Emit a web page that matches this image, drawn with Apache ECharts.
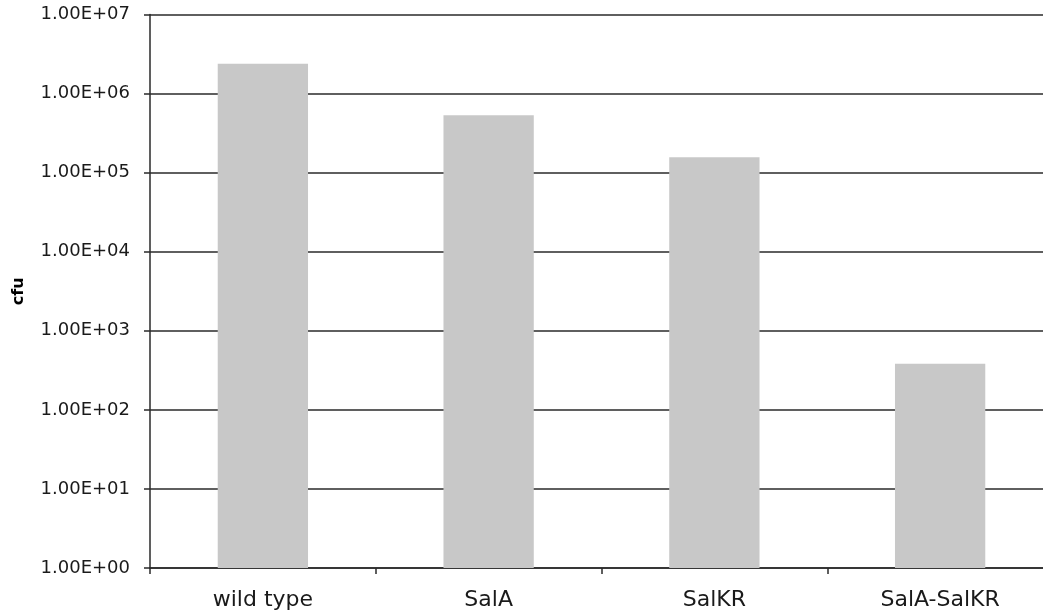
<!DOCTYPE html>
<html>
<head>
<meta charset="utf-8">
<script src="https://cdn.jsdelivr.net/npm/echarts@6/dist/echarts.min.js"></script>
<style>
html,body{margin:0;padding:0;background:#fff;overflow:hidden;}
#chart{width:1043px;height:615px;}
</style>
</head>
<body>
<div id="chart"></div>
<script>
var categories = ['wild type', 'SalA', 'SalKR', 'SalA-SalKR'];
var cfuValues = [2.39e6, 5.3e5, 1.56e5, 382];
var yTickLabels = ['1.00E+00','1.00E+01','1.00E+02','1.00E+03','1.00E+04','1.00E+05','1.00E+06','1.00E+07'];
var yAxisName = 'cfu';

var chart = echarts.init(document.getElementById('chart'));
chart.setOption({
  animation: false,
  backgroundColor: '#ffffff',
  grid: { left: 150, right: -10, top: 14.5, bottom: 47, containLabel: false, outerBoundsMode: 'none' },
  xAxis: {
    type: 'category',
    data: categories,
    boundaryGap: true,
    axisLine: { lineStyle: { color: '#2a2a2a', width: 1.5 } },
    axisTick: { show: true, length: 6, inside: false, lineStyle: { color: '#2a2a2a', width: 1.5 } },
    axisLabel: { color: '#1a1a1a', fontFamily: 'DejaVu Sans', fontSize: 22, margin: 21 },
    splitLine: { show: false }
  },
  yAxis: {
    type: 'log',
    logBase: 10,
    min: 1,
    max: 1e7,
    name: yAxisName,
    nameLocation: 'middle',
    nameRotate: 90,
    nameGap: 123,
    nameTextStyle: { color: '#000', fontFamily: 'DejaVu Sans', fontSize: 16, fontWeight: 'bold' },
    axisLine: { show: true, lineStyle: { color: '#2a2a2a', width: 1.5 } },
    axisTick: { show: true, length: 6, inside: false, lineStyle: { color: '#2a2a2a', width: 1.5 } },
    axisLabel: {
      color: '#1a1a1a', fontFamily: 'DejaVu Sans', fontSize: 18, margin: 20,
      formatter: function (v) {
        var i = Math.round(Math.log10(v));
        return yTickLabels[i] !== undefined ? yTickLabels[i] : '';
      }
    },
    splitLine: { show: true, lineStyle: { color: '#2a2a2a', width: 1.5 } },
    minorTick: { show: false },
    minorSplitLine: { show: false }
  },
  series: [{
    type: 'bar',
    data: cfuValues,
    barWidth: '40%',
    itemStyle: { color: '#c8c8c8' },
    z: 3
  }]
});
</script>
</body>
</html>
